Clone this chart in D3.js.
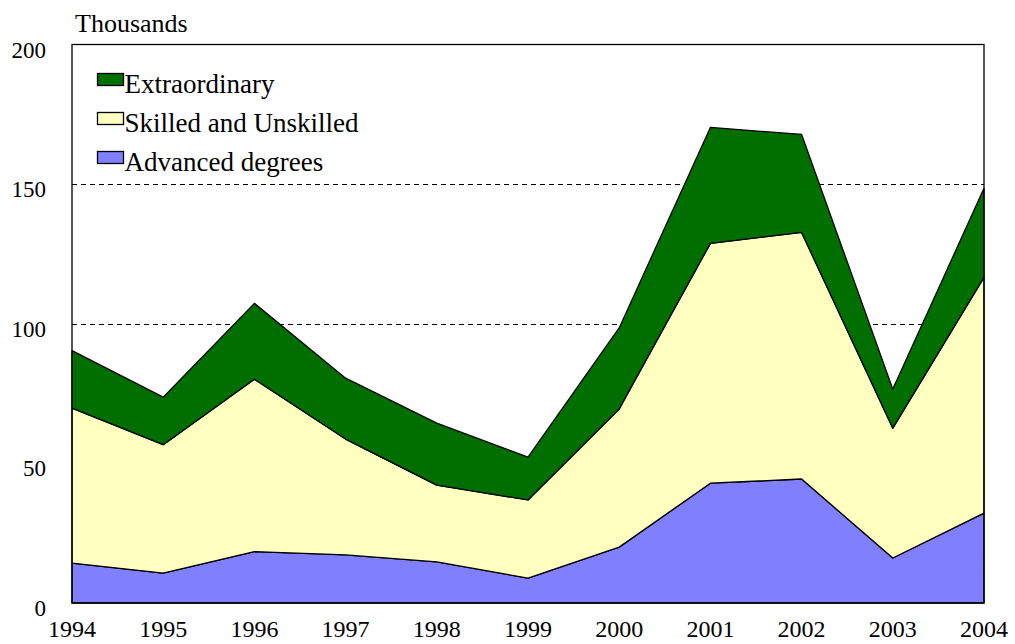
<!DOCTYPE html>
<html>
<head>
<meta charset="utf-8">
<script src="https://cdn.jsdelivr.net/npm/d3@7"></script>
<style>
  body { margin: 0; background: #fff; }
  text { font-family: "Liberation Serif", "Times New Roman", serif; fill: #000; }
</style>
</head>
<body>
<script>
// years along the x axis
var years = [1994, 1995, 1996, 1997, 1998, 1999, 2000, 2001, 2002, 2003, 2004];
// thousands
var advanced = [14.3, 10.7, 18.4, 17.2, 14.7, 8.9, 20.0, 42.9, 44.4, 16.1, 32.2];
var skilled = [55.5, 46.0, 61.7, 41.5, 27.5, 28.0, 49.5, 85.9, 88.3, 46.5, 84.4];
var extraordinary = [20.6, 17.0, 27.2, 21.8, 22.2, 15.3, 29.0, 41.5, 35.1, 14.0, 31.9];
var yTicks = [0, 50, 100, 150, 200];
var gridTicks = [100, 150];
var seriesNames = ["Advanced degrees", "Skilled and Unskilled", "Extraordinary"];
var colors = ["#8080ff", "#ffffc0", "#006f00"];

var w = 1015, h = 644;
var plotLeft = 72, plotRight = 984, plotTop = 44.5, plotBottom = 603;

var svg = d3.select("body").append("svg")
  .attr("width", w)
  .attr("height", h);

var x = d3.scaleLinear().domain([1994, 2004]).range([plotLeft, plotRight]);
var y = d3.scaleLinear().domain([0, 200]).range([plotBottom, plotTop]);

var rows = years.map(function(yr, i) {
  return { year: yr, a: advanced[i], s: skilled[i], e: extraordinary[i] };
});
var stack = d3.stack().keys(["a", "s", "e"]);
var layers = stack(rows);

// dashed gridlines
svg.selectAll("line.grid")
  .data(gridTicks)
  .enter()
  .append("line")
  .attr("x1", plotLeft).attr("x2", plotRight)
  .attr("y1", function(d) { return Math.round(y(d)) + 0.5; })
  .attr("y2", function(d) { return Math.round(y(d)) + 0.5; })
  .attr("stroke", "#000")
  .attr("stroke-dasharray", "5,4");

var area = d3.area()
  .x(function(d) { return x(d.data.year); })
  .y0(function(d) { return y(d[0]); })
  .y1(function(d) { return y(d[1]); });

svg.selectAll("path.layer")
  .data(layers)
  .enter()
  .append("path")
  .attr("d", area)
  .attr("fill", function(d, i) { return colors[i]; })
  .attr("stroke", "#000")
  .attr("stroke-width", 1.3)
  .attr("stroke-linejoin", "round");

// plot frame
svg.append("rect")
  .attr("x", plotLeft).attr("y", plotTop)
  .attr("width", plotRight - plotLeft).attr("height", plotBottom - plotTop)
  .attr("fill", "none")
  .attr("stroke", "#000")
  .attr("stroke-width", 1.3);

// y axis labels
svg.selectAll("text.ytick")
  .data(yTicks)
  .enter()
  .append("text")
  .attr("x", 46)
  .attr("y", function(d) { return y(d) + 13; })
  .attr("text-anchor", "end")
  .attr("font-size", "23px")
  .text(function(d) { return d; });

// x axis labels
svg.selectAll("text.xtick")
  .data(years)
  .enter()
  .append("text")
  .attr("x", function(d) { return x(d); })
  .attr("y", 637)
  .attr("text-anchor", "middle")
  .attr("font-size", "24px")
  .text(function(d) { return d; });

svg.append("text")
  .attr("x", 75)
  .attr("y", 32)
  .attr("font-size", "26px")
  .text("Thousands");

// legend, top item first
var legendItems = [2, 1, 0];
var leg = svg.selectAll("g.legend")
  .data(legendItems)
  .enter()
  .append("g")
  .attr("transform", function(d, i) { return "translate(97.5," + (73.5 + i * 39) + ")"; });

leg.append("rect")
  .attr("width", 26).attr("height", 12)
  .attr("fill", function(d) { return colors[d]; })
  .attr("stroke", "#000")
  .attr("stroke-width", 1.3);

leg.append("text")
  .attr("x", 27)
  .attr("y", 19)
  .attr("font-size", "27px")
  .text(function(d) { return seriesNames[d]; });
</script>
</body>
</html>
